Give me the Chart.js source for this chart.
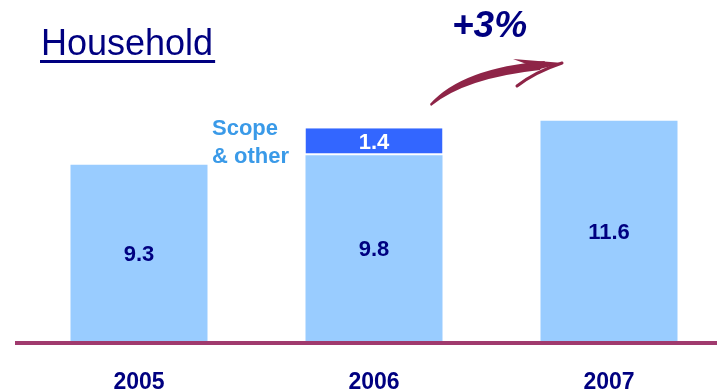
<!DOCTYPE html>
<html>
<head>
<meta charset="utf-8">
<script src="https://cdn.jsdelivr.net/npm/chart.js@4"></script>
<style>
  html, body { margin: 0; padding: 0; background: #fff; overflow: hidden; }
  #wrap { width: 717px; height: 391px; overflow: hidden; }
</style>
</head>
<body>
<div id="wrap"><canvas id="c" width="727" height="391"></canvas></div>
<script>
// data
const years = ['2005', '2006', '2007'];
const baseValues = [9.3, 9.8, 11.6];
const scopeValues = [null, 1.4, null];
const growthLabel = '+3%';
const scopeLabel = ['Scope', '& other'];

const FONT = '"Liberation Sans", Arial, sans-serif';
const NAVY = '#000080';

// value labels in the middle of each bar
const valueLabels = {
  id: 'valueLabels',
  afterDatasetsDraw(chart) {
    const ctx = chart.ctx;
    ctx.save();
    ctx.font = 'bold 22px ' + FONT;
    ctx.textAlign = 'center';
    ctx.textBaseline = 'middle';
    chart.data.datasets.forEach((ds, di) => {
      chart.getDatasetMeta(di).data.forEach((bar, i) => {
        const v = ds.data[i];
        if (v == null) return;
        const {x, y, base} = bar.getProps(['x', 'y', 'base'], true);
        ctx.fillStyle = ds.labelColor;
        ctx.fillText(v.toFixed(1), x, (y + base) / 2 + 1);
      });
    });
    // baseline across the visible width
    const y0 = chart.scales.y.getPixelForValue(0);
    ctx.fillStyle = '#a03a6e';
    ctx.fillRect(15, y0 - 2, 717 - 15, 4);
    ctx.restore();
  }
};

// title, growth text, arrow and scope note
const decorations = {
  id: 'decorations',
  afterDraw(chart) {
    const ctx = chart.ctx;
    ctx.save();
    ctx.fillStyle = NAVY;
    ctx.font = '36px ' + FONT;
    ctx.textBaseline = 'alphabetic';
    ctx.fillText('Household', 41, 55);
    const w = ctx.measureText('Household').width;
    ctx.fillRect(40, 60, w + 3, 3);

    ctx.font = 'italic bold 37px ' + FONT;
    ctx.fillText(growthLabel, 452, 37);

    ctx.fillStyle = '#3a9ae8';
    ctx.font = 'bold 22px ' + FONT;
    ctx.fillText(scopeLabel[0], 212, 135);
    ctx.fillText(scopeLabel[1], 212, 163);

    // brush arrow
    ctx.fillStyle = '#8e2447';
    ctx.strokeStyle = '#8e2447';
    ctx.beginPath();
    ctx.moveTo(431, 106);
    ctx.quadraticCurveTo(465, 78, 540, 70);
    ctx.lineTo(545, 61);
    ctx.quadraticCurveTo(462, 68, 430, 104);
    ctx.closePath();
    ctx.fill();
    ctx.beginPath();
    ctx.moveTo(513, 59);
    ctx.lineTo(563, 63);
    ctx.lineTo(540, 69);
    ctx.closePath();
    ctx.fill();
    ctx.lineWidth = 3;
    ctx.lineCap = 'round';
    ctx.beginPath();
    ctx.moveTo(562, 63);
    ctx.quadraticCurveTo(535, 72, 517, 86);
    ctx.stroke();
    ctx.restore();
  }
};

new Chart(document.getElementById('c'), {
  type: 'bar',
  data: {
    labels: years,
    datasets: [{
      data: baseValues,
      backgroundColor: '#99ccff',
      labelColor: NAVY,
      borderWidth: 0
    }, {
      data: scopeValues,
      backgroundColor: '#3366ff',
      borderColor: '#ffffff',
      borderWidth: {top: 0, left: 0, right: 0, bottom: 2},
      borderSkipped: false,
      labelColor: '#ffffff'
    }]
  },
  options: {
    responsive: false,
    animation: false,
    events: [],
    layout: {padding: {top: 113, left: 21.5, right: 0.5, bottom: 0}},
    plugins: {legend: {display: false}, tooltip: {enabled: false}},
    datasets: {bar: {barPercentage: 0.583, categoryPercentage: 1}},
    scales: {
      x: {
        stacked: true,
        afterFit: s => { s.height = 48; },
        grid: {display: false},
        border: {display: false},
        ticks: {
          padding: 20,
          maxRotation: 0,
          color: NAVY,
          font: {family: FONT, size: 23, weight: 'bold', lineHeight: 1}
        }
      },
      y: {
        stacked: true,
        display: false,
        min: 0,
        max: 12
      }
    }
  },
  plugins: [valueLabels, decorations]
});
</script>
</body>
</html>
